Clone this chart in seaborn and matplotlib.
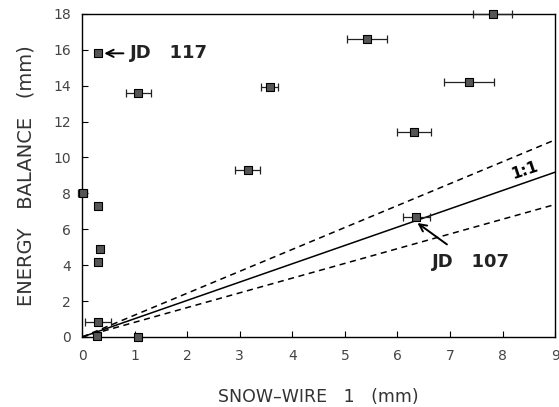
import matplotlib
matplotlib.use("Agg")
import matplotlib.pyplot as plt
import seaborn as sns
import numpy as np
import pandas as pd

# data
snow_wire = [0.31, 1.07, 3.57, 3.15, 0.01, 7.81, 5.42, 7.36, 6.31, 0.30, 0.33, 0.30, 0.30, 0.28, 1.07, 6.36]
energy_balance = [15.8, 13.6, 13.95, 9.3, 8.0, 18.0, 16.6, 14.2, 11.4, 7.3, 4.9, 4.2, 0.85, 0.05, 0.0, 6.7]
snow_err = [0, 0.24, 0.16, 0.24, 0.08, 0.37, 0.38, 0.47, 0.32, 0, 0, 0, 0.24, 0, 0, 0.25]
line_x = [0, 9]
slope_one = 1.02
slope_hi = 1.22
slope_lo = 0.82
x_ticks = [0, 1, 2, 3, 4, 5, 6, 7, 8, 9]
y_ticks = [0, 2, 4, 6, 8, 10, 12, 14, 16, 18]

df = pd.DataFrame({"x": snow_wire, "y": energy_balance, "xerr": snow_err})

sns.set_style("ticks")
plt.rcParams["font.family"] = ["DejaVu Sans"]

fig = plt.figure(figsize=(5.59, 4.07), dpi=100)
ax = fig.add_axes([0.147, 0.172, 0.846, 0.794])

lx = np.array(line_x, dtype=float)
ax.plot(lx, slope_one * lx, color="black", lw=1.1)
ax.plot(lx, slope_hi * lx, color="black", lw=1.1, ls=(0, (4, 3)))
ax.plot(lx, slope_lo * lx, color="black", lw=1.1, ls=(0, (4, 3)))

err = df[df["xerr"] > 0]
ax.errorbar(err["x"], err["y"], xerr=err["xerr"], fmt="none", ecolor="#222222",
            elinewidth=0.9, capsize=3, capthick=0.9, clip_on=False, zorder=3)
sns.scatterplot(data=df, x="x", y="y", ax=ax, marker="s", s=38, color="#555555",
                edgecolor="black", linewidth=0.8, clip_on=False, zorder=4, legend=False)

ax.set_xlim(0, 9)
ax.set_ylim(0, 18)
ax.set_xticks(x_ticks)
ax.set_yticks(y_ticks)
ax.tick_params(direction="in", length=4, width=0.8, colors="black", labelcolor="#444444",
               labelsize=10)
ax.tick_params(axis="x", pad=9)
ax.tick_params(axis="y", pad=8)
for s in ax.spines.values():
    s.set_visible(True)
    s.set_color("black")
    s.set_linewidth(1.0)

ax.set_xlabel("SNOW\u2013WIRE   1   (mm)", fontsize=12.5, color="#333333", labelpad=18)
ax.set_ylabel("ENERGY   BALANCE   (mm)", fontsize=14, color="#333333", labelpad=13)

ax.annotate("JD   117", xy=(0.42, 15.8), xytext=(0.9, 15.8), fontsize=13, fontweight="bold",
            va="center", ha="left", color="#222222",
            arrowprops=dict(arrowstyle="->", color="black", lw=1.4, shrinkA=2, shrinkB=0))
ax.annotate("JD   107", xy=(6.38, 6.35), xytext=(6.65, 4.2), fontsize=13, fontweight="bold",
            va="center", ha="left", color="#222222",
            arrowprops=dict(arrowstyle="->", color="black", lw=1.4, shrinkA=6, shrinkB=0))
ax.text(8.42, 9.3, "1:1", fontsize=11, fontweight="bold", rotation=18.6,
        ha="center", va="center", color="black")

fig.savefig("out.png", dpi=100)
